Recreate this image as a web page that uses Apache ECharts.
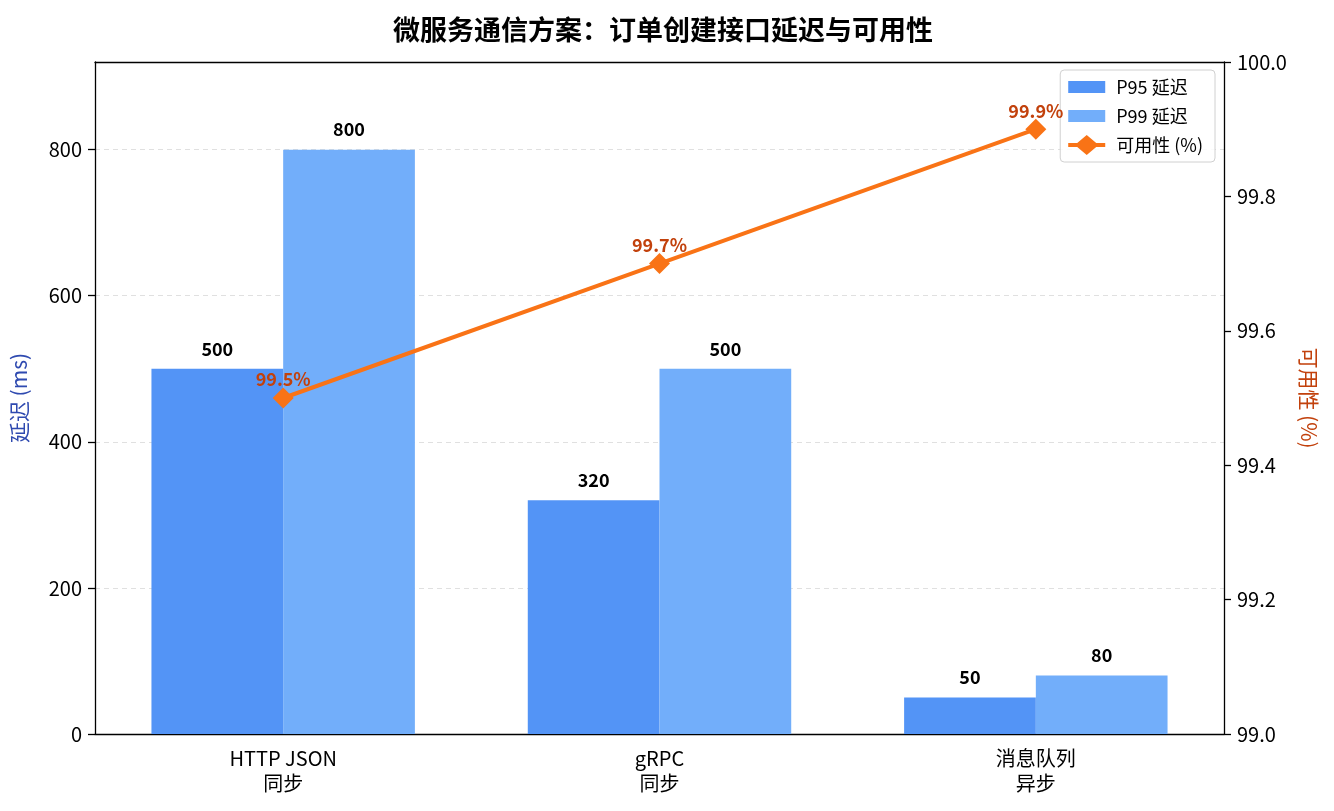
<!DOCTYPE html>
<html>
<head>
<meta charset="utf-8">
<script src="https://cdn.jsdelivr.net/npm/echarts@6/dist/echarts.min.js"></script>
<style>
  html, body { margin: 0; padding: 0; background: #fff; }
  #chart { width: 1334px; height: 811px; }
</style>
</head>
<body>
<div id="chart"></div>
<script>
const categories = ['HTTP JSON\n同步', 'gRPC\n同步', '消息队列\n异步'];
const p95Latency = [500, 320, 50];
const p99Latency = [800, 500, 80];
const availability = [99.5, 99.7, 99.9];
const latencyTicks = [0, 200, 400, 600, 800];

const font = '"Noto Sans CJK SC", "Noto Sans", sans-serif';

// legend icons in a 37x20 box: a bar swatch, and a line with a diamond marker
const barIcon = 'path://M0,0L0,0M0,4L37,4L37,16L0,16ZM37,20L37,20';
const lineIcon = 'path://M0,8L9,8L18.5,0L28,8L37,8L37,12L28,12L18.5,20L9,12L0,12Z';

const chart = echarts.init(document.getElementById('chart'));

const option = {
  backgroundColor: '#fff',
  textStyle: { fontFamily: font },
  title: {
    text: '微服务通信方案：订单创建接口延迟与可用性',
    left: 388,
    top: 11,
    textStyle: { fontFamily: font, fontSize: 27, fontWeight: 'bold', color: '#000' }
  },
  legend: {
    right: 119,
    top: 70,
    orient: 'vertical',
    itemGap: 9,
    itemWidth: 37,
    itemHeight: 20,
    padding: [7, 12, 7, 8],
    borderColor: '#d0d0d0',
    borderWidth: 1,
    borderRadius: 4,
    backgroundColor: 'rgba(255,255,255,0.85)',
    textStyle: { fontFamily: font, fontSize: 18, color: '#000', padding: [0, 0, 0, 6] },
    data: [
      { name: 'P95 延迟', icon: barIcon },
      { name: 'P99 延迟', icon: barIcon },
      { name: '可用性 (%)', icon: lineIcon }
    ]
  },
  grid: {
    left: 95,
    right: 110,
    top: 62,
    bottom: 77
  },
  xAxis: [
    {
      type: 'category',
      data: categories,
      axisLine: { lineStyle: { color: '#000', width: 1.3 } },
      axisTick: { alignWithLabel: true, length: 7, lineStyle: { color: '#000', width: 1.3 } },
      axisLabel: { color: '#000', fontSize: 20, lineHeight: 25, margin: 12, fontFamily: font }
    },
    {
      type: 'category',
      data: categories,
      position: 'top',
      axisLine: { show: true, lineStyle: { color: '#000', width: 1.3 } },
      axisTick: { show: false },
      axisLabel: { show: false },
      z: 10
    }
  ],
  yAxis: [
    {
      type: 'value',
      min: 0,
      max: 920,
      interval: 200,
      name: '延迟 (ms)',
      nameLocation: 'middle',
      nameGap: 65,
      nameTextStyle: { color: '#2f4ab0', fontSize: 21, fontFamily: font },
      axisLine: { show: true, lineStyle: { color: '#000', width: 1.3 } },
      axisTick: { show: true, length: 7, customValues: latencyTicks, lineStyle: { color: '#000', width: 1.3 } },
      axisLabel: {
        color: '#000', fontSize: 20, margin: 13, fontFamily: font,
        customValues: latencyTicks
      },
      splitLine: { show: true, lineStyle: { color: '#e0e0e0', type: [5, 4] } }
    },
    {
      type: 'value',
      min: 99.0,
      max: 100.0,
      interval: 0.2,
      name: '可用性 (%)',
      nameLocation: 'middle',
      nameGap: 74,
      nameRotate: 270,
      nameTextStyle: { color: '#c2410c', fontSize: 21, fontFamily: font },
      axisLine: { show: true, lineStyle: { color: '#000', width: 1.3 } },
      axisTick: { show: true, length: 7, lineStyle: { color: '#000', width: 1.3 } },
      axisLabel: { color: '#000', fontSize: 20, margin: 13, fontFamily: font, formatter: v => v.toFixed(1) },
      splitLine: { show: false }
    }
  ],
  series: [
    {
      name: 'P95 延迟',
      type: 'bar',
      data: p95Latency,
      barWidth: '35%',
      barGap: '0%',
      itemStyle: { color: '#5394f6' },
      label: {
        show: true, position: 'top', distance: 11,
        color: '#000', fontWeight: 'bold', fontSize: 18, fontFamily: font
      }
    },
    {
      name: 'P99 延迟',
      type: 'bar',
      data: p99Latency,
      barWidth: '35%',
      barGap: '0%',
      itemStyle: { color: '#72aefa' },
      label: {
        show: true, position: 'top', distance: 11,
        color: '#000', fontWeight: 'bold', fontSize: 18, fontFamily: font
      }
    },
    {
      name: '可用性 (%)',
      type: 'line',
      yAxisIndex: 1,
      data: availability,
      symbol: 'diamond',
      symbolSize: 21,
      lineStyle: { color: '#f97316', width: 4 },
      itemStyle: { color: '#f97316' },
      z: 5,
      label: {
        show: true, position: 'top', distance: -1,
        color: '#c2410c', fontWeight: 'bold', fontSize: 18, fontFamily: font,
        formatter: p => p.value.toFixed(1) + '%'
      }
    }
  ]
};

chart.setOption(option);
</script>
</body>
</html>
